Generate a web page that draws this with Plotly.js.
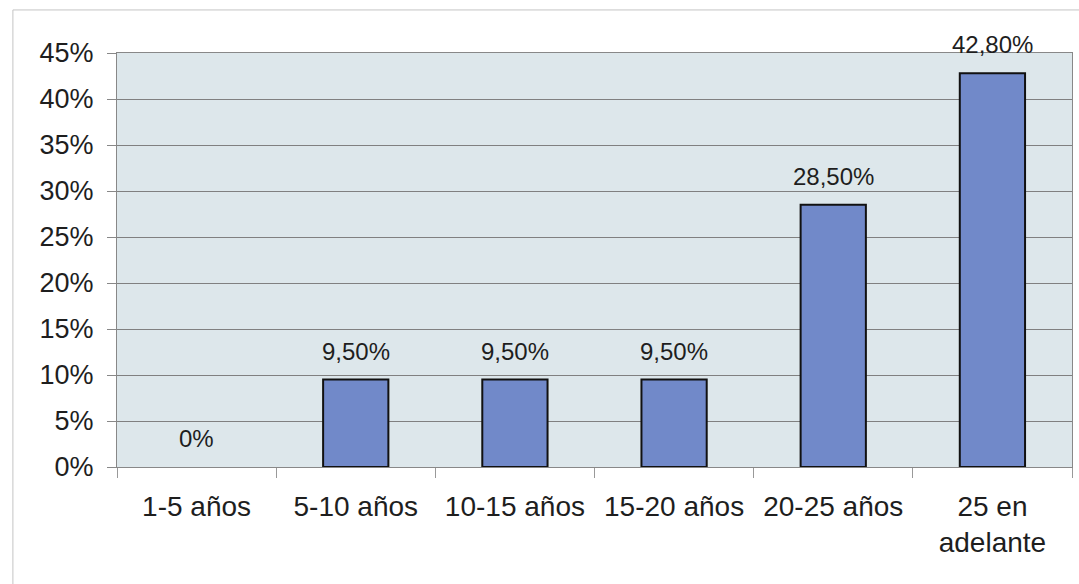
<!DOCTYPE html>
<html>
<head>
<meta charset="utf-8">
<script src="https://cdn.plot.ly/plotly-3.0.1.min.js"></script>
<style>html,body{margin:0;padding:0;background:#fff;}#chart{width:1079px;height:584px;}</style>
</head>
<body>
<div id="chart"></div>
<script>
const categories = ["1-5 años", "5-10 años", "10-15 años", "15-20 años", "20-25 años", "25 en<br>adelante"];
const values = [0, 9.5, 9.5, 9.5, 28.5, 42.8];
const valueLabels = ["0%", "9,50%", "9,50%", "9,50%", "28,50%", "42,80%"];
const yTickVals = [0, 5, 10, 15, 20, 25, 30, 35, 40, 45];
const yTickText = ["0%", "5%", "10%", "15%", "20%", "25%", "30%", "35%", "40%", "45%"];

const fontFam = "Arial, 'Liberation Sans', sans-serif";
const annotations = categories.map((c, i) => ({
  x: c, y: values[i], xref: 'x', yref: 'y',
  text: valueLabels[i], showarrow: false,
  yanchor: 'bottom', yshift: 13,
  font: {family: fontFam, size: 24, color: '#1e1e1e'}
}));

const data = [{
  type: 'bar', x: categories, y: values,
  marker: {color: '#7189c9', line: {color: '#111', width: values.map(v => v > 0 ? 2 : 0)}},
  hoverinfo: 'none'
}];

const layout = {
  width: 1079, height: 584,
  margin: {l: 117, r: 7, t: 53, b: 117},
  paper_bgcolor: '#ffffff', plot_bgcolor: '#dde7eb',
  bargap: 0.59, showlegend: false,
  font: {family: fontFam, size: 26, color: '#1e1e1e'},
  xaxis: {
    type: 'category', tickson: 'boundaries', ticks: 'outside', ticklen: 10,
    tickcolor: '#999', showline: true, linecolor: '#888', linewidth: 1, mirror: true,
    showgrid: false, tickfont: {size: 28, color: '#1e1e1e'}, ticklabelstandoff: 14, fixedrange: true
  },
  yaxis: {
    range: [0, 45], tickvals: yTickVals, ticktext: yTickText,
    ticks: 'outside', ticklen: 9, tickcolor: '#888',
    showline: true, linecolor: '#888', linewidth: 1, mirror: true,
    showgrid: true, gridcolor: '#808080', gridwidth: 1, zeroline: false,
    tickfont: {size: 27, color: '#1e1e1e'}, ticklabelstandoff: 8, fixedrange: true
  },
  annotations: annotations,
  shapes: [
    {type: 'line', xref: 'paper', yref: 'paper', x0: -0.109, x1: 1.01, y0: 1.104, y1: 1.104, line: {color: '#c4c4c4', width: 1}},
    {type: 'line', xref: 'paper', yref: 'paper', x0: -0.109, x1: -0.109, y0: 1.104, y1: -0.29, line: {color: '#c4c4c4', width: 1}}
  ]
};

Plotly.newPlot('chart', data, layout, {staticPlot: true, displayModeBar: false});
</script>
</body>
</html>
